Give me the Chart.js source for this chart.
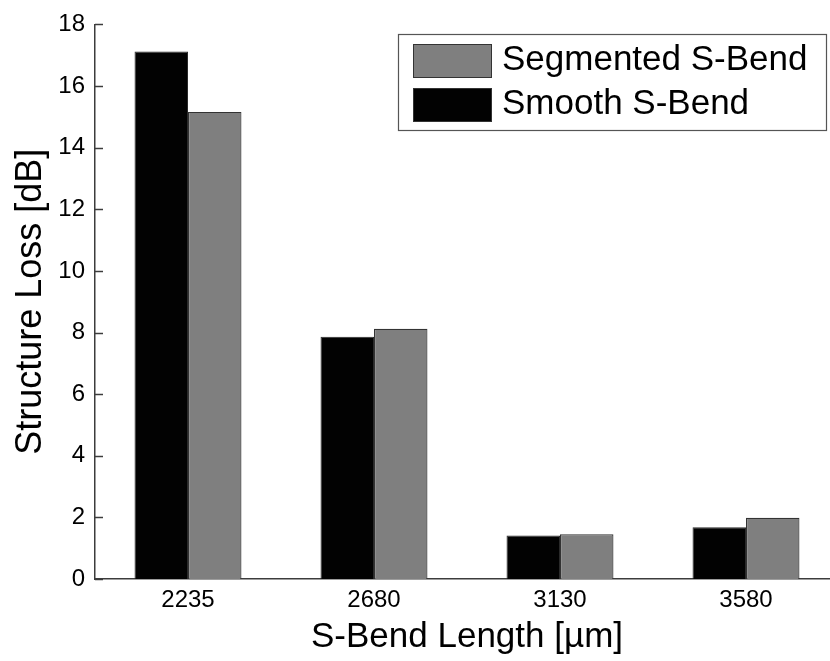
<!DOCTYPE html>
<html>
<head>
<meta charset="utf-8">
<title>Structure Loss vs S-Bend Length</title>
<script src="https://cdn.jsdelivr.net/npm/chart.js@4/dist/chart.umd.min.js"></script>
<style>
    html, body { margin: 0; padding: 0; background: #fff; overflow: hidden; }
    #wrap { position: absolute; left: 0; top: 0; width: 839px; height: 661px; }
</style>
</head>
<body>
<div id="wrap"><canvas id="lossChart" width="839" height="661"></canvas></div>
<script>
const lengths = ['2235', '2680', '3130', '3580'];
const smoothLoss = [17.12, 7.86, 1.41, 1.68];
const segmentedLoss = [15.16, 8.12, 1.45, 1.99];
const yTicks = [0, 2, 4, 6, 8, 10, 12, 14, 16, 18];

const FONT = "'Liberation Sans', Arial, Helvetica, sans-serif";
const AXIS_COLOR = '#3c3c3c';

// matlab-style ticks pointing into the plot
const innerTicks = {
    id: 'innerTicks',
    afterDatasetsDraw(chart) {
        const ctx = chart.ctx;
        const y = chart.scales.y;
        const left = chart.chartArea.left;
        ctx.save();
        ctx.strokeStyle = AXIS_COLOR;
        ctx.lineWidth = 1.5;
        yTicks.forEach(v => {
            const py = Math.round(y.getPixelForValue(v)) + 0.5;
            ctx.beginPath();
            ctx.moveTo(left, py);
            ctx.lineTo(left + 8, py);
            ctx.stroke();
        });
        ctx.restore();
    }
};

// boxed legend in the upper right, segmented listed first
const boxLegend = {
    id: 'boxLegend',
    afterDraw(chart) {
        const ctx = chart.ctx;
        const items = chart.data.datasets.slice().reverse();
        ctx.save();
        ctx.fillStyle = '#fff';
        ctx.fillRect(398, 34, 429, 97);
        ctx.strokeStyle = '#555';
        ctx.lineWidth = 1.2;
        ctx.strokeRect(398.5, 34.5, 428, 96);
        ctx.font = '35px ' + FONT;
        ctx.textBaseline = 'alphabetic';
        items.forEach((ds, i) => {
            const top = 44 + i * 44;
            ctx.fillStyle = ds.backgroundColor;
            ctx.fillRect(413, top, 79, 34);
            ctx.strokeStyle = '#333';
            ctx.lineWidth = 1;
            ctx.strokeRect(413.5, top + 0.5, 78, 33);
            ctx.fillStyle = '#000';
            ctx.fillText(ds.label, 502, top + 25.5);
        });
        ctx.restore();
    }
};

new Chart(document.getElementById('lossChart'), {
    type: 'bar',
    data: {
        labels: lengths,
        datasets: [
            {
                label: 'Smooth S-Bend',
                data: smoothLoss,
                backgroundColor: '#020202',
                borderColor: '#2a2a2a',
                borderWidth: 1,
                categoryPercentage: 0.575,
                barPercentage: 1.0
            },
            {
                label: 'Segmented S-Bend',
                data: segmentedLoss,
                backgroundColor: '#7f7f7f',
                borderColor: '#333',
                borderWidth: 1.2,
                categoryPercentage: 0.575,
                barPercentage: 1.0
            }
        ]
    },
    options: {
        responsive: false,
        animation: false,
        layout: { padding: { top: 21, right: 0, bottom: 0, left: 0 } },
        plugins: {
            legend: { display: false },
            tooltip: { enabled: false }
        },
        scales: {
            x: {
                grid: { display: false, drawTicks: false },
                border: { display: true, color: AXIS_COLOR, width: 1.5 },
                ticks: { color: '#000', font: { family: FONT, size: 24 }, padding: 7 },
                title: {
                    display: true,
                    text: 'S-Bend Length [µm]',
                    color: '#000',
                    font: { family: FONT, size: 35 },
                    padding: { top: 0, bottom: 3 }
                },
                afterFit(scale) { scale.height = 82; }
            },
            y: {
                min: 0,
                max: 18,
                afterBuildTicks(scale) { scale.ticks = yTicks.map(v => ({ value: v })); },
                grid: { display: false, drawTicks: false },
                border: { display: true, color: AXIS_COLOR, width: 1.5 },
                ticks: { color: '#000', font: { family: FONT, size: 24 }, padding: 10 },
                title: {
                    display: true,
                    text: 'Structure Loss [dB]',
                    color: '#000',
                    font: { family: FONT, size: 36 },
                    padding: { top: 9, bottom: 0 }
                },
                afterFit(scale) { scale.width = 95; }
            }
        }
    },
    plugins: [innerTicks, boxLegend]
});
</script>
</body>
</html>
